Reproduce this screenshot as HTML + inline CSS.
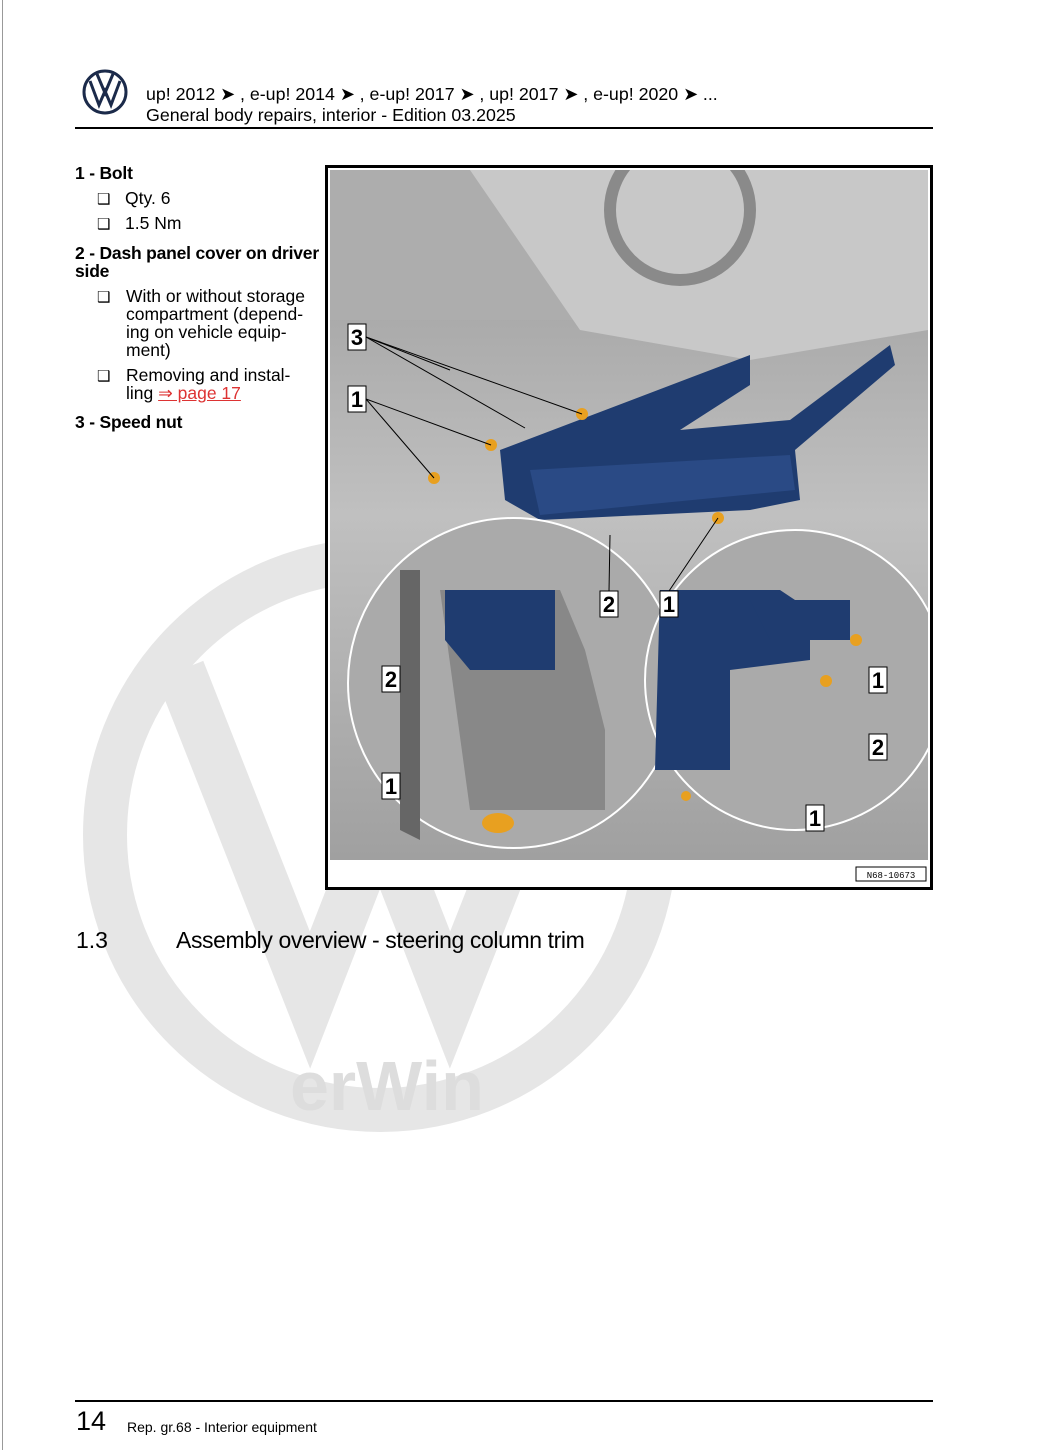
<!DOCTYPE html>
<html><head><meta charset="utf-8"><style>
body{margin:0;width:1060px;height:1450px;background:#fff;position:relative;overflow:hidden;font-family:"Liberation Sans",sans-serif;color:#000}
.a{position:absolute;white-space:nowrap}
.h{font-size:17.8px}
.t{font-size:17.5px;line-height:18px}
.b{font-weight:bold;letter-spacing:-0.2px}
.cb{font-size:15px}
</style></head><body>
<div class="a" style="left:2px;top:0;width:1px;height:1450px;background:#999"></div>
<svg class="a" style="left:0;top:500px" width="720" height="680">
 <circle cx="380" cy="335" r="275" fill="none" stroke="#e6e6e6" stroke-width="44"/>
 <path d="M180 170 L310 500 L380 320 L450 500 L580 170" fill="none" stroke="#e6e6e6" stroke-width="50"/>
 <text x="290" y="610" font-family="Liberation Sans" font-size="70" font-weight="bold" fill="#ddd">erWin</text>
</svg>
<svg class="a" style="left:82px;top:69px" width="48" height="48"><circle cx="23" cy="23" r="21" fill="none" stroke="#1b2a4a" stroke-width="3"/><path d="M8 12 L17 36 L23 22 L29 36 L38 12 M15 5 L23 24 L31 5" fill="none" stroke="#1b2a4a" stroke-width="3"/></svg>
<div class="a h" style="left:146px;top:84px">up! 2012 ➤ , e-up! 2014 ➤ , e-up! 2017 ➤ , up! 2017 ➤ , e-up! 2020 ➤ ...</div>
<div class="a h" style="left:146px;top:105px">General body repairs, interior - Edition 03.2025</div>
<div class="a" style="left:75px;top:127px;width:858px;height:2px;background:#000"></div>

<div class="a t b" style="left:75px;top:164px">1 - Bolt</div>
<div class="a t" style="left:97px;top:189px"><span class="cb">❑</span>&nbsp;&nbsp; Qty. 6</div>
<div class="a t" style="left:97px;top:214px"><span class="cb">❑</span>&nbsp;&nbsp; 1.5 Nm</div>
<div class="a t b" style="left:75px;top:244px">2 - Dash panel cover on driver<br>side</div>
<div class="a t" style="left:97px;top:287px"><span class="cb">❑</span></div>
<div class="a t" style="left:126px;top:287px">With or without storage<br>compartment (depend-<br>ing on vehicle equip-<br>ment)</div>
<div class="a t" style="left:97px;top:366px"><span class="cb">❑</span></div>
<div class="a t" style="left:126px;top:366px">Removing and instal-<br>ling <span style="color:#d33;text-decoration:underline">⇒ page 17</span></div>
<div class="a t b" style="left:75px;top:413px">3 - Speed nut</div>

<div class="a" style="left:325px;top:165px;width:602px;height:719px;border:3px solid #000;background:#fff"></div>
<svg class="a" style="left:330px;top:170px" width="598" height="713">
 <defs><linearGradient id="g" x1="0" y1="0" x2="0" y2="1"><stop offset="0" stop-color="#9a9a9a"/><stop offset="0.5" stop-color="#c0c0c0"/><stop offset="1" stop-color="#a0a0a0"/></linearGradient></defs>
 <rect width="598" height="690" fill="url(#g)"/>
 <rect x="0" y="0" width="598" height="150" fill="#adadad"/>
 <path d="M140 0 L598 0 L598 160 L420 190 L250 160 Z" fill="#c8c8c8"/>
 <circle cx="350" cy="40" r="70" fill="none" stroke="#8a8a8a" stroke-width="12"/>
 <path d="M170 280 L420 185 L420 215 L350 260 L460 250 L560 175 L565 195 L465 280 L470 330 L420 340 L210 350 L175 330 Z" fill="#1f3c70"/>
 <path d="M200 300 L460 285 L465 320 L210 345 Z" fill="#2a4a85"/>
 <circle cx="183" cy="513" r="165" fill="#aaa" stroke="#fff" stroke-width="2"/>
 <path d="M110 420 L230 420 L255 480 L275 560 L275 640 L140 640 Z" fill="#888"/>
 <path d="M115 420 L225 420 L225 500 L140 500 L115 470 Z" fill="#1f3c70"/>
 <path d="M70 400 L90 400 L90 670 L70 660 Z" fill="#666"/>
 <ellipse cx="168" cy="653" rx="16" ry="10" fill="#e8a020"/>
 <circle cx="465" cy="510" r="150" fill="#aaa" stroke="#fff" stroke-width="2"/>
 <path d="M330 420 L450 420 L480 440 L480 490 L400 500 L400 600 L325 600 Z" fill="#1f3c70"/>
 <path d="M420 430 L520 430 L520 470 L440 470 Z" fill="#1f3c70"/>
 <circle cx="526" cy="470" r="6" fill="#e8a020"/><circle cx="496" cy="511" r="6" fill="#e8a020"/><circle cx="356" cy="626" r="5" fill="#e8a020"/>
 <circle cx="252" cy="244" r="6" fill="#e8a020"/><circle cx="161" cy="275" r="6" fill="#e8a020"/><circle cx="104" cy="308" r="6" fill="#e8a020"/><circle cx="388" cy="348" r="6" fill="#e8a020"/>
 <g fill="#fff" stroke="#000"><rect x="18" y="154" width="18" height="26"/><rect x="18" y="216" width="18" height="26"/><rect x="270" y="421" width="18" height="26"/><rect x="330" y="421" width="18" height="26"/><rect x="52" y="496" width="18" height="26"/><rect x="52" y="603" width="18" height="26"/><rect x="539" y="497" width="18" height="26"/><rect x="539" y="564" width="18" height="26"/><rect x="476" y="635" width="18" height="26"/></g>
 <g font-family="Liberation Sans" font-weight="bold" font-size="22" text-anchor="middle"><text x="27" y="175">3</text><text x="27" y="237">1</text><text x="279" y="442">2</text><text x="339" y="442">1</text><text x="61" y="517">2</text><text x="61" y="624">1</text><text x="548" y="518">1</text><text x="548" y="585">2</text><text x="485" y="656">1</text></g>
 <g stroke="#000" stroke-width="1"><line x1="36" y1="167" x2="252" y2="244"/><line x1="36" y1="167" x2="195" y2="258"/><line x1="36" y1="167" x2="120" y2="200"/><line x1="36" y1="229" x2="161" y2="275"/><line x1="36" y1="229" x2="104" y2="308"/><line x1="279" y1="421" x2="280" y2="365"/><line x1="339" y1="421" x2="388" y2="348"/></g>
 <rect x="526" y="697" width="70" height="14" fill="#fff" stroke="#000"/>
 <text x="561" y="708" font-family="Liberation Mono" font-size="9" text-anchor="middle">N68-10673</text>
</svg>

<div class="a" style="left:76px;top:927px;font-size:23px">1.3</div>
<div class="a" style="left:176px;top:927px;font-size:23px;letter-spacing:-0.4px">Assembly overview - steering column trim</div>

<div class="a" style="left:75px;top:1400px;width:858px;height:2px;background:#000"></div>
<div class="a" style="left:76px;top:1406px;font-size:27px">14</div>
<div class="a" style="left:127px;top:1419px;font-size:14px">Rep. gr.68 - Interior equipment</div>
</body></html>
